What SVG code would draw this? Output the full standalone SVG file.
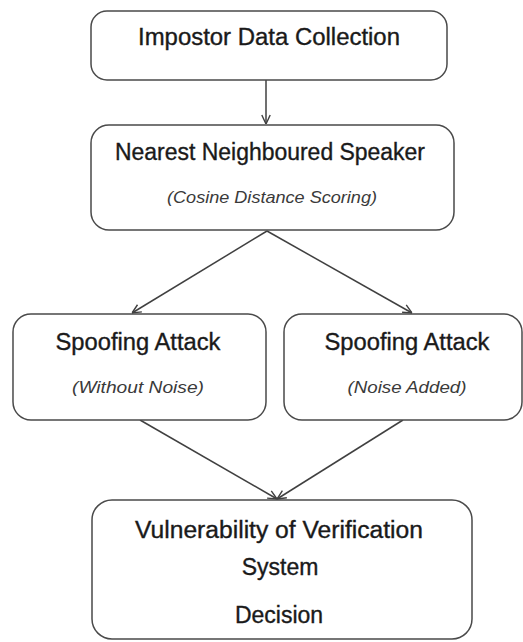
<svg xmlns="http://www.w3.org/2000/svg" width="523" height="642" viewBox="0 0 523 642">
  <style>
    .box { fill: #ffffff; stroke: #4a4a4a; stroke-width: 1.5; }
    .title { font-family: "Liberation Sans", Arial, sans-serif; font-size: 23px; fill: #1a1a1a; stroke: #1a1a1a; stroke-width: 0.35; text-anchor: middle; }
    .sub { font-family: "Liberation Sans", Arial, sans-serif; font-size: 17px; font-style: italic; fill: #3a3a3a; text-anchor: middle; }
    .conn { stroke: #404040; stroke-width: 1.5; fill: none; marker-end: url(#arrow); }
  </style>
  <defs>
    <marker id="arrow" viewBox="0 0 10 10" refX="10" refY="5" markerWidth="10" markerHeight="10" markerUnits="userSpaceOnUse" orient="auto">
      <path d="M1,0.8 L10,5 L1,9.2" fill="none" stroke="#404040" stroke-width="1.4"/>
    </marker>
  </defs>
  <rect width="523" height="642" fill="#ffffff"/>

  <g id="connectors">
    <line class="conn" x1="266" y1="80" x2="266" y2="124"/>
    <line class="conn" x1="267" y1="231" x2="132" y2="313"/>
    <line class="conn" x1="267" y1="231" x2="412" y2="313"/>
    <line class="conn" x1="140" y1="420" x2="277" y2="499"/>
    <line class="conn" x1="403" y1="420" x2="277" y2="499"/>
  </g>

  <g id="impostor">
    <rect class="box" x="91" y="11" width="356" height="69" rx="16" ry="16"/>
    <text class="title" x="269" y="45" textLength="262" lengthAdjust="spacingAndGlyphs">Impostor Data Collection</text>
  </g>

  <g id="nearest">
    <rect class="box" x="91" y="125" width="363" height="105" rx="18" ry="18"/>
    <text class="title" x="270" y="160" textLength="310" lengthAdjust="spacingAndGlyphs">Nearest Neighboured Speaker</text>
    <text class="sub" x="272" y="203" textLength="210" lengthAdjust="spacingAndGlyphs">(Cosine Distance Scoring)</text>
  </g>

  <g id="spoof-without">
    <rect class="box" x="13" y="314" width="253" height="106" rx="18" ry="18"/>
    <text class="title" x="138" y="350" textLength="165" lengthAdjust="spacingAndGlyphs">Spoofing Attack</text>
    <text class="sub" x="138" y="393" textLength="132" lengthAdjust="spacingAndGlyphs">(Without Noise)</text>
  </g>

  <g id="spoof-noise">
    <rect class="box" x="284" y="314" width="238" height="106" rx="18" ry="18"/>
    <text class="title" x="407" y="350" textLength="165" lengthAdjust="spacingAndGlyphs">Spoofing Attack</text>
    <text class="sub" x="407" y="393" textLength="119" lengthAdjust="spacingAndGlyphs">(Noise Added)</text>
  </g>

  <g id="decision">
    <rect class="box" x="92" y="500" width="380" height="139" rx="20" ry="20"/>
    <text class="title" x="279" y="538" textLength="288" lengthAdjust="spacingAndGlyphs">Vulnerability of Verification</text>
    <text class="title" x="280" y="575">System</text>
    <text class="title" x="279" y="623">Decision</text>
  </g>
</svg>
